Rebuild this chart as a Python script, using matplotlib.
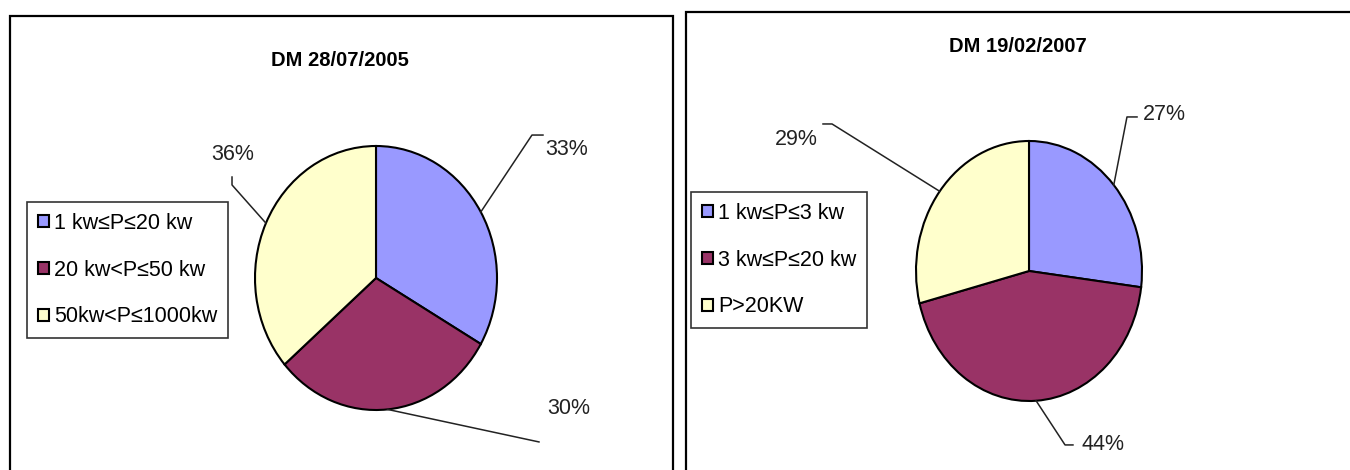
import numpy as np
import matplotlib
matplotlib.use("Agg")
import matplotlib.pyplot as plt
from matplotlib.patches import Rectangle

plt.rcParams['font.family'] = ['Liberation Sans', 'DejaVu Sans']

# data
title_1 = "DM 28/07/2005"
labels_1 = ["1 kw\u2264P\u226420 kw", "20 kw<P\u226450 kw", "50kw<P\u22641000kw"]
values_1 = [33, 30, 36]

title_2 = "DM 19/02/2007"
labels_2 = ["1 kw\u2264P\u22643 kw", "3 kw\u2264P\u226420 kw", "P>20KW"]
values_2 = [27, 44, 29]

colors = ["#9999FF", "#993366", "#FFFFCC"]

W, H = 1350, 470
fig = plt.figure(figsize=(W / 100, H / 100), dpi=100)


def px_axes(x0, y0, x1, y1):
    # pixel box (top-left origin) -> figure axes
    return fig.add_axes([x0 / W, 1 - y1 / H, (x1 - x0) / W, (y1 - y0) / H])


def panel_border(x0, y0, x1):
    fig.add_artist(Rectangle((x0 / W, -0.05), (x1 - x0) / W, 1.05 - y0 / H,
                             transform=fig.transFigure, fill=False,
                             edgecolor="black", linewidth=1.6))


def draw_pie(ax, values, leaders):
    wedges, _ = ax.pie(values, colors=colors, startangle=90, counterclock=False,
                       radius=1, wedgeprops=dict(edgecolor="black", linewidth=1.5))
    ax.set_aspect('auto')
    ax.set_xlim(-1, 1)
    ax.set_ylim(-1, 1)
    ax.axis('off')
    total = sum(values)
    start = 90.0
    for v, (elbow, tick, txt, ha) in zip(values, leaders):
        sweep = v / total * 360
        mid = np.deg2rad(start - sweep / 2)
        start -= sweep
        x0, y0 = np.cos(mid), np.sin(mid)
        xs = [x0, elbow[0]]
        ys = [y0, elbow[1]]
        if tick is not None:
            xs.append(tick[0])
            ys.append(tick[1])
        ax.plot(xs, ys, color="#222222", linewidth=1.1, clip_on=False)
        ax.text(txt[0], txt[1], f"{v}%", ha=ha, va="center", fontsize=15.5,
                color="#222222", clip_on=False)
    return wedges


def make_legend(handles, labels, x, y):
    leg = fig.legend(handles, labels, loc="upper left",
                     bbox_to_anchor=(x / W, 1 - y / H), fontsize=15.5,
                     frameon=True, fancybox=False, borderpad=0.5,
                     handlelength=0.5, handleheight=0.5, handletextpad=0.25,
                     labelspacing=1.2, borderaxespad=0)
    leg.get_frame().set_edgecolor("black")
    leg.get_frame().set_linewidth(1.2)
    return leg


# left panel
panel_border(10, 16, 673)
fig.text(340 / W, 1 - 60 / H, title_1, ha="center", va="center", fontsize=14.5,
         fontweight="bold")
ax1 = px_axes(255, 146, 497, 410)
leaders_1 = [
    ((1.289, 1.083), (1.380, 1.083), (1.40, 0.97), "left"),
    ((1.347, -1.242), None, (1.413, -0.985), "left"),
    ((-1.190, 0.705), (-1.190, 0.765), (-1.182, 0.932), "center"),
]
w1 = draw_pie(ax1, values_1, leaders_1)
make_legend(w1, labels_1, 27, 202)

# right panel
panel_border(686, 12, 1360)
fig.text(1018 / W, 1 - 47 / H, title_2, ha="center", va="center", fontsize=14.5,
         fontweight="bold")
ax2 = px_axes(916, 141, 1142, 401)
leaders_2 = [
    ((0.867, 1.185), (0.956, 1.185), (1.01, 1.20), "left"),
    ((0.319, -1.338), (0.389, -1.338), (0.469, -1.331), "left"),
    ((-1.743, 1.131), (-1.823, 1.131), (-1.867, 1.008), "right"),
]
w2 = draw_pie(ax2, values_2, leaders_2)
make_legend(w2, labels_2, 691, 192)

fig.savefig("out.png", dpi=100, facecolor="white")
